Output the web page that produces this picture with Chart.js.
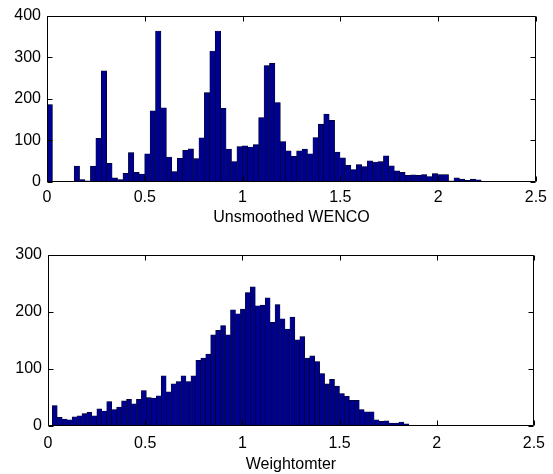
<!DOCTYPE html>
<html>
<head>
<meta charset="utf-8">
<script src="https://cdn.jsdelivr.net/npm/chart.js@4.4.1/dist/chart.umd.min.js"></script>
<style>
body{margin:0;background:#fff;}
#wrap{position:relative;width:553px;height:474px;}
canvas{position:absolute;left:0;}
</style>
</head>
<body>
<div id="wrap">
<canvas id="topChart" width="553" height="237" style="top:0"></canvas>
<canvas id="bottomChart" width="553" height="237" style="top:237px"></canvas>
</div>
<script>
// histogram counts, 80 bins each
const wencoRange = [0, 2.22];
const wencoCounts = [
  186,0,0,0,0,38,6,3,38,105,
  267,45,10,6,21,71,23,19,68,171,
  363,178,60,25,57,76,80,56,106,215,
  315,363,177,79,49,85,87,84,90,155,
  280,285,191,97,75,62,75,79,68,107,
  139,163,148,72,58,40,30,42,37,51,
  48,49,63,39,27,23,16,17,16,18,
  13,20,18,18,3,10,7,4,7,5
];
const weightRange = [0.022, 2.06];
const weightCounts = [
  36,15,12,11,16,18,22,24,18,30,
  26,43,29,33,44,47,39,47,62,50,
  49,53,88,60,74,78,88,78,88,115,
  119,126,160,168,176,160,204,197,205,234,
  244,211,212,225,182,213,188,170,191,151,
  157,119,123,113,92,74,82,70,57,52,
  45,45,29,25,25,11,8,9,5,5,
  7,4,1,1,0,0,0,0,0,1
];
const xTicks = [0, 0.5, 1, 1.5, 2, 2.5];
const xTickLabels = ['0', '0.5', '1', '1.5', '2', '2.5'];
const wencoYTicks = [0, 100, 200, 300, 400];
const weightYTicks = [0, 100, 200, 300];

Chart.defaults.font.family = '"Liberation Sans", Arial, Helvetica, sans-serif';
Chart.defaults.font.size = 16;
Chart.defaults.color = '#000';

function binPoints(range, counts){
  const w = (range[1]-range[0])/counts.length;
  return counts.map((c,i)=>({x: range[0]+(i+0.5)*w, y: c}));
}

// matlab-style box with inward ticks on all four sides
const frame = {
  id: 'frame',
  afterDraw(chart){
    const {ctx, chartArea:a, scales:{x, y}} = chart;
    const L = Math.round(a.left)+0.5, R = Math.round(a.right)-0.5;
    const T = Math.round(a.top)+0.5, B = Math.round(a.bottom)-0.5;
    const tl = 5;
    ctx.save();
    ctx.strokeStyle = '#000';
    ctx.lineWidth = 1;
    ctx.beginPath();
    ctx.rect(L, T, R-L, B-T);
    x.ticks.forEach(t=>{
      const p = Math.round(x.getPixelForValue(t.value))+0.5;
      ctx.moveTo(p, B); ctx.lineTo(p, B-tl);
      ctx.moveTo(p, T); ctx.lineTo(p, T+tl);
    });
    y.ticks.forEach(t=>{
      const p = Math.round(y.getPixelForValue(t.value))+0.5;
      ctx.moveTo(L, p); ctx.lineTo(L+tl, p);
      ctx.moveTo(R, p); ctx.lineTo(R-tl, p);
    });
    ctx.stroke();
    ctx.restore();
  }
};

function histChart(id, range, counts, yTicks, title, box){
  return new Chart(document.getElementById(id), {
    type: 'bar',
    data: {
      datasets: [{
        data: binPoints(range, counts),
        backgroundColor: '#00008f',
        borderColor: '#000',
        borderWidth: 0.5,
        barPercentage: 1,
        categoryPercentage: 1,
        grouped: false
      }]
    },
    options: {
      responsive: false,
      animation: false,
      layout: {padding: {top: box.top, right: box.right, left: 0, bottom: 0}},
      plugins: {legend: {display: false}, tooltip: {enabled: false}},
      scales: {
        x: {
          type: 'linear',
          offset: false,
          min: xTicks[0], max: xTicks[xTicks.length-1],
          grid: {display: false, drawTicks: false, offset: false},
          border: {display: false},
          ticks: {padding: box.tickPad, maxRotation: 0, callback: (v, i)=>xTickLabels[i]},
          afterBuildTicks: s=>{ s.ticks = xTicks.map(v=>({value: v})); },
          afterFit: s=>{ s.height = box.xAxis; },
          title: {display: true, text: title, padding: {top: 0, bottom: box.titlePad}}
        },
        y: {
          min: yTicks[0], max: yTicks[yTicks.length-1],
          grid: {display: false, drawTicks: false},
          border: {display: false},
          ticks: {padding: 6},
          afterBuildTicks: s=>{ s.ticks = yTicks.map(v=>({value: v})); },
          afterFit: s=>{ s.width = box.left; }
        }
      }
    },
    plugins: [frame]
  });
}

histChart('topChart', wencoRange, wencoCounts, wencoYTicks, 'Unsmoothed WENCO',
  {top: 11, right: 15, left: 47, xAxis: 55, tickPad: 6, titlePad: 10});
histChart('bottomChart', weightRange, weightCounts, weightYTicks, 'Weightomter',
  {top: 18, right: 14, left: 48, xAxis: 48, tickPad: 8, titlePad: 0});
</script>
</body>
</html>
